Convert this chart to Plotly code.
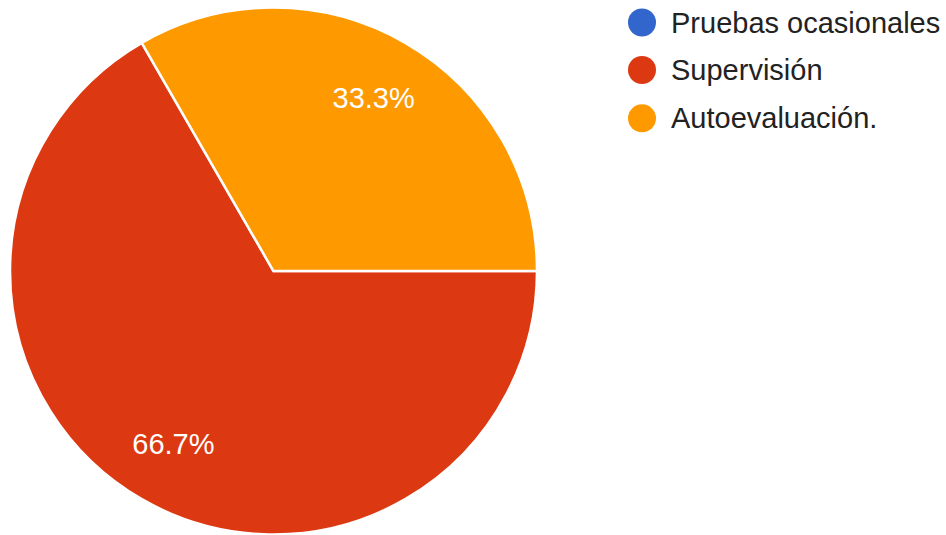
import plotly.graph_objects as go

# Survey answers
categories = ["Pruebas ocasionales", "Supervisión", "Autoevaluación."]
responses = [0, 2, 1]
colors = ["#3366cc", "#dc3912", "#ff9900"]

W, H = 946, 535
FONT = "Liberation Sans, Arial, Helvetica, sans-serif"

# Pie placement in paper fractions
pie_x = [10 / W, 537 / W]
pie_y = [1 - 534.5 / H, 1 - 7.5 / H]

fig = go.Figure()

# Slices
fig.add_trace(go.Pie(
    labels=categories,
    values=responses,
    marker=dict(colors=colors, line=dict(color="white", width=2.5)),
    sort=False,
    direction="clockwise",
    rotation=90,
    textinfo="none",
    hoverinfo="label+percent",
    showlegend=False,
    domain=dict(x=pie_x, y=pie_y),
))

# Percent labels: a transparent ring over the same slices so the
# inside text sits out toward the rim
fig.add_trace(go.Pie(
    labels=categories,
    values=responses,
    hole=0.52,
    marker=dict(colors=["rgba(0,0,0,0)"] * len(categories), line=dict(width=0)),
    sort=False,
    direction="clockwise",
    rotation=90,
    texttemplate="%{percent:.1%}",
    textposition=["none" if v == 0 else "inside" for v in responses],
    insidetextorientation="horizontal",
    textfont=dict(family=FONT, size=29, color="white"),
    hoverinfo="skip",
    showlegend=False,
    domain=dict(x=pie_x, y=pie_y),
))

# Legend drawn on a pixel-scaled hidden plane
legend_x = 642
legend_rows = [22.5, 70, 118.3]
fig.add_trace(go.Scatter(
    x=[legend_x] * len(categories),
    y=legend_rows,
    mode="markers",
    marker=dict(size=28, color=colors, line=dict(width=0)),
    hoverinfo="skip",
    showlegend=False,
    cliponaxis=False,
))
for name, yy in zip(categories, legend_rows):
    fig.add_annotation(
        x=legend_x + 27, y=yy, xref="x", yref="y",
        text=name, showarrow=False, xanchor="left", yanchor="middle",
        font=dict(family=FONT, size=29, color="#222222"),
    )

fig.update_layout(
    width=W, height=H,
    margin=dict(l=0, r=0, t=0, b=0),
    paper_bgcolor="white",
    plot_bgcolor="rgba(0,0,0,0)",
    xaxis=dict(range=[0, W], domain=[0, 1], visible=False, fixedrange=True),
    yaxis=dict(range=[H, 0], domain=[0, 1], visible=False, fixedrange=True),
    showlegend=False,
)

fig.write_html("out.html")
